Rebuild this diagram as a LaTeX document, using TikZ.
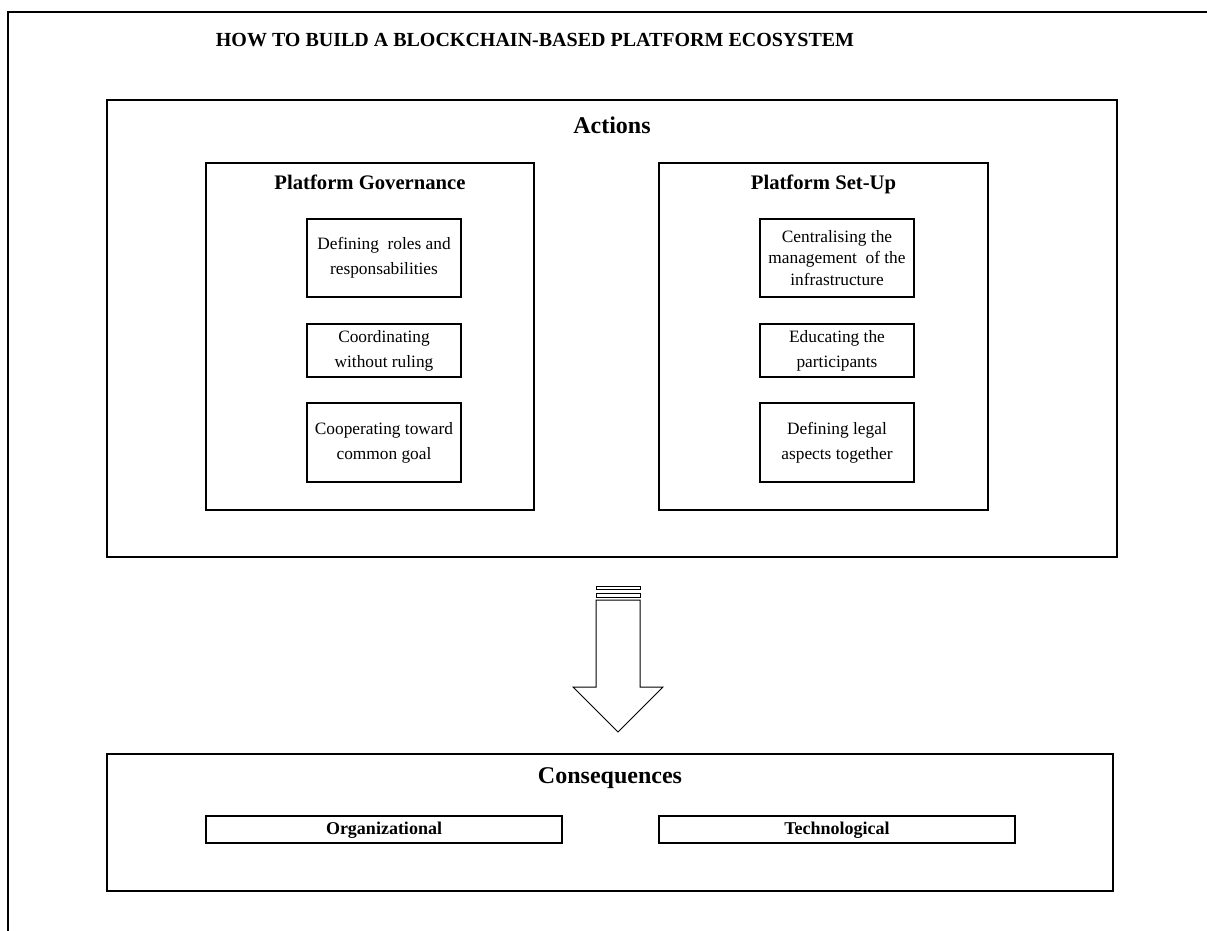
\documentclass[tikz,border=0pt]{standalone}
\usepackage{fontspec}
\setmainfont{Liberation Serif}
\begin{document}
\begin{tikzpicture}[x=0.75pt,y=-0.75pt,
  frame/.style={draw=black,line width=1.5pt},
  bigbox/.style={frame,rectangle,inner sep=0pt},
  itembox/.style={frame,rectangle,inner sep=0pt,minimum width=115.5pt,align=center,
     font=\fontsize{13}{18.75}\selectfont},
  conbox/.style={frame,rectangle,inner sep=0pt,minimum width=267pt,minimum height=20.25pt,
     text height=9.5pt,text depth=2pt,font=\fontsize{13.5}{16}\selectfont\bfseries},
  headlbl/.style={inner sep=0pt,anchor=base,font=\fontsize{18}{20}\selectfont\bfseries},
  sublbl/.style={inner sep=0pt,anchor=base,font=\fontsize{15.5}{18}\selectfont\bfseries},
  arrowline/.style={draw=black,line width=0.75pt,fill=white}]
\useasboundingbox (0,0) rectangle (1207,931);
% outer frame (only top and left edges visible)
\draw[frame] (8,931) -- (8,12) -- (1207,12);
\node[inner sep=0pt,anchor=base,font=\fontsize{15}{18}\selectfont\bfseries] (title) at (535,47) {HOW TO BUILD A BLOCKCHAIN-BASED PLATFORM ECOSYSTEM};

% Actions
\node[bigbox,minimum width=757.5pt,minimum height=342.75pt] (actions) at (612,328.5) {};
\node[headlbl] (actlbl) at (612,133) {Actions};

\node[bigbox,minimum width=246pt,minimum height=260.25pt] (gov) at (370,336.5) {};
\node[sublbl] (govlbl) at (370,189) {Platform Governance};
\node[bigbox,minimum width=246.75pt,minimum height=260.25pt] (setup) at (823.5,336.5) {};
\node[sublbl] (setuplbl) at (823.5,189) {Platform Set-Up};

\node[itembox,minimum height=58.5pt] (g1) at (384,258) {Defining\ \ roles and\\responsabilities};
\node[itembox,minimum height=39.75pt] (g2) at (384,350.5) {Coordinating\\without ruling};
\node[itembox,minimum height=59.25pt] (g3) at (384,442.5) {Cooperating toward\\common goal};

\node[itembox,minimum height=58.5pt,font=\fontsize{13}{16.3}\selectfont] (s1) at (837,258) {Centralising the\\management\ \ of the\\infrastructure};
\node[itembox,minimum height=39.75pt] (s2) at (837,350.5) {Educating the\\participants};
\node[itembox,minimum height=59.25pt] (s3) at (837,442.5) {Defining legal\\aspects together};

% striped block arrow
\draw[arrowline] (596,586) rectangle (640,589.5);
\draw[arrowline] (596,593) rectangle (640,597.5);
\draw[arrowline] (596,600) -- (640,600) -- (640,687) -- (663,687) -- (618,732) -- (573,687) -- (596,687) -- cycle;

% Consequences
\node[bigbox,minimum width=754.5pt,minimum height=102.75pt] (cons) at (610,822.5) {};
\node[headlbl] (conslbl) at (610,783) {Consequences};
\node[conbox] (org) at (384,829.5) {Organizational};
\node[conbox] (tech) at (837,829.5) {Technological};
\end{tikzpicture}
\end{document}
